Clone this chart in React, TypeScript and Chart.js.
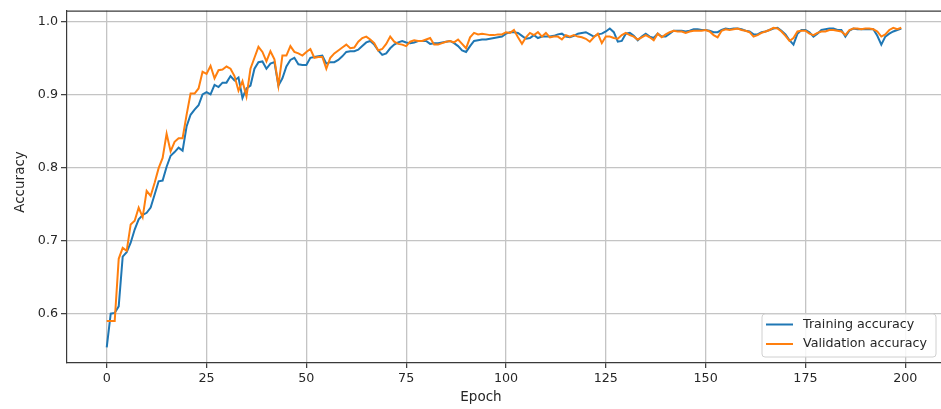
import React, { useEffect, useRef } from 'react';
import { Chart, registerables } from 'chart.js';

Chart.register(...registerables);

const trainingAccuracy = [
  0.554, 0.600, 0.601, 0.610, 0.678, 0.684, 0.697, 0.715, 0.729, 0.735,
  0.738, 0.745, 0.763, 0.781, 0.782, 0.801, 0.816, 0.821, 0.827, 0.823,
  0.856, 0.872, 0.879, 0.885, 0.900, 0.903, 0.900, 0.913, 0.910, 0.916,
  0.916, 0.925, 0.919, 0.923, 0.895, 0.908, 0.912, 0.935, 0.944, 0.945,
  0.935, 0.942, 0.944, 0.912, 0.922, 0.938, 0.947, 0.950, 0.941, 0.940,
  0.940, 0.950, 0.951, 0.952, 0.953, 0.942, 0.944, 0.944, 0.947, 0.952,
  0.958, 0.959, 0.959, 0.961, 0.966, 0.971, 0.973, 0.968, 0.960, 0.954,
  0.956, 0.963, 0.968, 0.971, 0.973, 0.971, 0.970, 0.971, 0.973, 0.973,
  0.973, 0.969, 0.970, 0.970, 0.971, 0.972, 0.973, 0.970, 0.966, 0.960,
  0.958, 0.966, 0.973, 0.974, 0.975, 0.975, 0.976, 0.977, 0.978, 0.979,
  0.983, 0.985, 0.985, 0.984, 0.980, 0.976, 0.977, 0.981, 0.977, 0.979,
  0.979, 0.979, 0.980, 0.982, 0.983, 0.979, 0.978, 0.980, 0.983, 0.984,
  0.985, 0.982, 0.979, 0.982, 0.983, 0.986, 0.990, 0.985, 0.972, 0.973,
  0.983, 0.984, 0.980, 0.974, 0.979, 0.983, 0.979, 0.977, 0.983, 0.979,
  0.979, 0.983, 0.987, 0.987, 0.987, 0.986, 0.987, 0.989, 0.989, 0.988,
  0.988, 0.987, 0.985, 0.985, 0.988, 0.990, 0.989, 0.990, 0.990, 0.989,
  0.987, 0.986, 0.982, 0.982, 0.985, 0.986, 0.988, 0.990, 0.991, 0.987,
  0.982, 0.974, 0.968, 0.983, 0.988, 0.988, 0.985, 0.979, 0.983, 0.988,
  0.989, 0.990, 0.990, 0.988, 0.988, 0.979, 0.987, 0.990, 0.989, 0.989,
  0.989, 0.989, 0.989, 0.980, 0.968, 0.979, 0.983, 0.986, 0.988, 0.990,
];

const validationAccuracy = [
  0.590, 0.590, 0.590, 0.675, 0.690, 0.686, 0.722, 0.727, 0.745, 0.732,
  0.768, 0.761, 0.779, 0.799, 0.813, 0.846, 0.822, 0.835, 0.840, 0.840,
  0.872, 0.901, 0.901, 0.908, 0.931, 0.928, 0.939, 0.922, 0.933, 0.934,
  0.938, 0.935, 0.925, 0.905, 0.918, 0.897, 0.935, 0.950, 0.965, 0.958,
  0.945, 0.959, 0.948, 0.912, 0.953, 0.953, 0.966, 0.958, 0.956, 0.953,
  0.958, 0.962, 0.950, 0.951, 0.951, 0.935, 0.950, 0.956, 0.960, 0.964,
  0.968, 0.963, 0.964, 0.972, 0.977, 0.979, 0.975, 0.970, 0.960, 0.962,
  0.969, 0.979, 0.972, 0.969, 0.968, 0.966, 0.972, 0.974, 0.973, 0.973,
  0.975, 0.977, 0.968, 0.968, 0.970, 0.972, 0.973, 0.971, 0.975, 0.969,
  0.963, 0.978, 0.984, 0.982, 0.983, 0.982, 0.981, 0.981, 0.982, 0.982,
  0.985, 0.984, 0.988, 0.978, 0.969, 0.978, 0.984, 0.981, 0.985, 0.979,
  0.984, 0.978, 0.979, 0.979, 0.975, 0.981, 0.979, 0.981, 0.979, 0.978,
  0.976, 0.972, 0.978, 0.983, 0.970, 0.979, 0.979, 0.977, 0.976, 0.981,
  0.984, 0.981, 0.979, 0.975, 0.978, 0.981, 0.978, 0.974, 0.983, 0.978,
  0.982, 0.985, 0.987, 0.986, 0.986, 0.984, 0.986, 0.987, 0.987, 0.987,
  0.988, 0.986, 0.981, 0.978, 0.987, 0.989, 0.988, 0.989, 0.990, 0.988,
  0.987, 0.985, 0.979, 0.981, 0.984, 0.986, 0.988, 0.991, 0.990, 0.986,
  0.980, 0.973, 0.977, 0.986, 0.987, 0.987, 0.983, 0.981, 0.984, 0.986,
  0.986, 0.988, 0.988, 0.987, 0.986, 0.981, 0.988, 0.990, 0.990, 0.989,
  0.990, 0.990, 0.989, 0.986, 0.979, 0.982, 0.988, 0.991, 0.989, 0.991,
];

const epochs = trainingAccuracy.map((_, i) => i);
const seriesLabels = ['Training accuracy', 'Validation accuracy'];
const seriesColors = ['#1f77b4', '#ff7f0e'];
const xTicks = [0, 25, 50, 75, 100, 125, 150, 175, 200];
const yTicks = [0.6, 0.7, 0.8, 0.9, 1.0];
const xTitle = 'Epoch';
const yTitle = 'Accuracy';

const FONT = '"DejaVu Sans", sans-serif';
const TEXT = '#262626';
const SPINE = '#3a3a3a';
const GRID = '#c4c4c4';

const extrasPlugin = {
  id: 'mplExtras',
  afterDraw(chart: any) {
    const { ctx, chartArea } = chart;
    ctx.save();
    // top spine
    ctx.strokeStyle = SPINE;
    ctx.lineWidth = 1.2;
    ctx.beginPath();
    ctx.moveTo(chartArea.left, chartArea.top + 0.5);
    ctx.lineTo(chartArea.right, chartArea.top + 0.5);
    ctx.stroke();

    // axis titles
    ctx.fillStyle = TEXT;
    ctx.font = `13.5px ${FONT}`;
    ctx.textAlign = 'center';
    ctx.textBaseline = 'middle';
    ctx.fillText(xTitle, 481, 397);
    ctx.save();
    ctx.translate(20, 182);
    ctx.rotate(-Math.PI / 2);
    ctx.fillText(yTitle, 0, 0);
    ctx.restore();

    // legend
    const bx = 762, by = 314, bw = 174, bh = 43, r = 3;
    ctx.fillStyle = 'rgba(255,255,255,0.85)';
    ctx.strokeStyle = '#d0d0d0';
    ctx.lineWidth = 1;
    ctx.beginPath();
    ctx.moveTo(bx + r, by);
    ctx.lineTo(bx + bw - r, by);
    ctx.arcTo(bx + bw, by, bx + bw, by + r, r);
    ctx.lineTo(bx + bw, by + bh - r);
    ctx.arcTo(bx + bw, by + bh, bx + bw - r, by + bh, r);
    ctx.lineTo(bx + r, by + bh);
    ctx.arcTo(bx, by + bh, bx, by + bh - r, r);
    ctx.lineTo(bx, by + r);
    ctx.arcTo(bx, by, bx + r, by, r);
    ctx.closePath();
    ctx.fill();
    ctx.stroke();

    chart.data.datasets.forEach((ds: any, i: number) => {
      const ly = 324.5 + i * 19.5;
      ctx.strokeStyle = ds.borderColor;
      ctx.lineWidth = 2;
      ctx.beginPath();
      ctx.moveTo(766, ly);
      ctx.lineTo(793, ly);
      ctx.stroke();
      ctx.fillStyle = TEXT;
      ctx.font = `12.7px ${FONT}`;
      ctx.textAlign = 'left';
      ctx.textBaseline = 'middle';
      ctx.fillText(ds.label, 803, ly);
    });
    ctx.restore();
  },
};

export default function App() {
  const canvasRef = useRef<HTMLCanvasElement | null>(null);

  useEffect(() => {
    const canvas = canvasRef.current;
    if (!canvas) return;
    const datasets = [trainingAccuracy, validationAccuracy].map((vals, k) => ({
      label: seriesLabels[k],
      data: epochs.map((e, i) => ({ x: e, y: vals[i] })),
      borderColor: seriesColors[k],
      backgroundColor: seriesColors[k],
      borderWidth: 2,
      pointRadius: 0,
      tension: 0,
      fill: false,
      order: k === 0 ? 1 : 0,
    }));

    const chart = new Chart(canvas, {
      type: 'line',
      data: { datasets },
      plugins: [extrasPlugin],
      options: {
        animation: false,
        responsive: false,
        maintainAspectRatio: false,
        devicePixelRatio: 1,
        layout: { padding: { top: 8, right: 0, left: 0, bottom: 0 } },
        plugins: {
          legend: { display: false },
          tooltip: { enabled: false },
          title: { display: false },
        },
        scales: {
          x: {
            type: 'linear',
            min: -9.95,
            max: 208.95,
            afterFit: (scale: any) => { scale.height = 46; },
            afterBuildTicks: (scale: any) => { scale.ticks = xTicks.map((v) => ({ value: v })); },
            ticks: {
              color: TEXT,
              font: { family: FONT, size: 12.7 },
              padding: 3,
              maxRotation: 0,
              autoSkip: false,
              callback: (v: any) => String(v),
            },
            grid: {
              color: GRID,
              lineWidth: 1.3,
              drawTicks: true,
              tickLength: 5,
              tickColor: SPINE,
              tickWidth: 1.2,
            },
            border: { display: true, color: SPINE, width: 1.2 },
          },
          y: {
            type: 'linear',
            min: 0.5325,
            max: 1.0145,
            afterFit: (scale: any) => { scale.width = 67; },
            afterBuildTicks: (scale: any) => { scale.ticks = yTicks.map((v) => ({ value: v })); },
            ticks: {
              color: TEXT,
              font: { family: FONT, size: 12.7 },
              padding: 3,
              autoSkip: false,
              callback: (v: any) => Number(v).toFixed(1),
            },
            grid: {
              color: GRID,
              lineWidth: 1.3,
              drawTicks: true,
              tickLength: 6,
              tickColor: SPINE,
              tickWidth: 1.2,
            },
            border: { display: true, color: SPINE, width: 1.2 },
          },
        },
      },
    });
    return () => chart.destroy();
  }, []);

  return (
    <div style={{ position: 'absolute', left: 0, top: 0, width: 941, height: 409, background: '#fff' }}>
      <canvas ref={canvasRef} width={941} height={409} style={{ display: 'block', width: 941, height: 409 }} />
    </div>
  );
}
